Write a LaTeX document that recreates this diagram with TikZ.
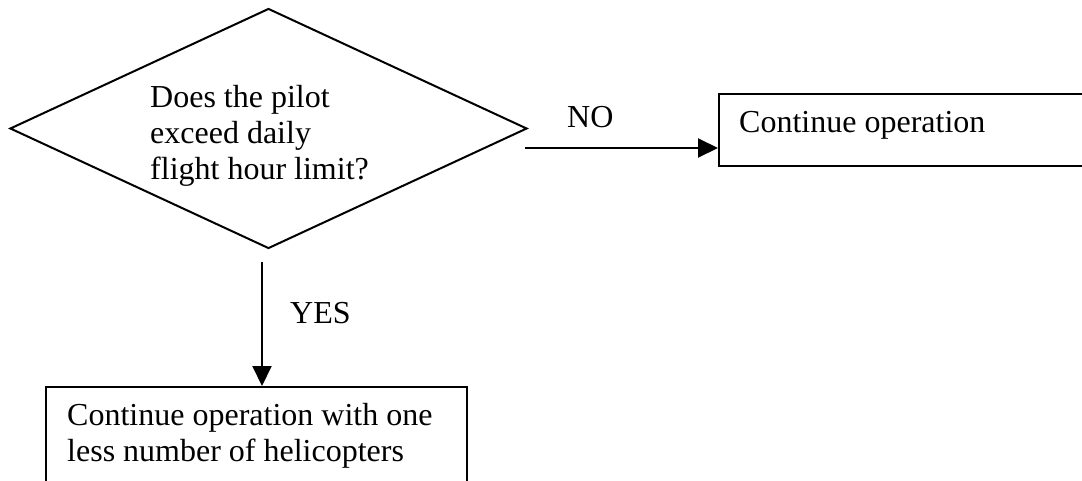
\documentclass[tikz,border=0pt]{standalone}
\usepackage{fontspec}
\setmainfont{Liberation Serif}
\usetikzlibrary{arrows.meta,shapes.geometric}
\begin{document}
\begin{tikzpicture}[x=1pt,y=-1pt,
  every node/.style={font=\fontsize{32}{36}\selectfont},
  outline/.style={draw=black,line width=2pt},
  label/.style={anchor=base west,inner sep=0pt,align=left},
  flow/.style={line width=2pt,-{Triangle[length=20pt,width=19pt]}}]
\useasboundingbox (0,0) rectangle (1082,480);

% decision diamond
\node[outline,diamond,inner sep=0pt,minimum width=517pt,minimum height=240pt]
  (dia) at (268.5,128.5) {};
% multi-line labels are placed by the baseline of their last line
\node[label] (qtext) at (150,179)
  {Does the pilot\\exceed daily\\flight hour limit?};

% outcome boxes
\node[outline,rectangle,anchor=north west,inner sep=0pt,
  minimum width=420pt,minimum height=72pt] (cont) at (718,93) {};
\node[label] (conttext) at (739,132) {Continue operation};

\node[outline,rectangle,anchor=north west,inner sep=0pt,
  minimum width=421pt,minimum height=140pt] (less) at (45,386) {};
\node[label] (lesstext) at (67,461)
  {Continue operation with one\\less number of helicopters};

% connectors
\coordinate (noStart) at (525,148);
\coordinate (yesStart) at (262,262);
\draw[flow] (noStart) -- (cont.west |- noStart);
\draw[flow] (yesStart) -- (yesStart |- less.north);

\node[label] (nolab) at (567,127) {NO};
\node[label] (yeslab) at (290,323) {YES};
\end{tikzpicture}
\end{document}
